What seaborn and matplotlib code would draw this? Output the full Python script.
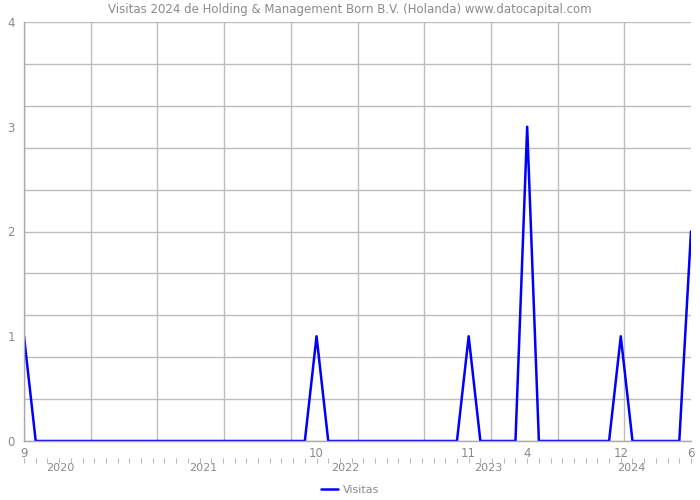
import matplotlib
matplotlib.use("Agg")
import matplotlib.pyplot as plt
import seaborn as sns
import numpy as np
import pandas as pd

sns.set_style("white")
plt.rcParams['font.family'] = ['DejaVu Sans']

# Monthly visits, Sep 2019 .. Jun 2024
months = [str(p) for p in pd.period_range("2019-09", "2024-06", freq="M")]
visitas = [1, 0, 0, 0, 0, 0, 0, 0, 0, 0, 0, 0,   # 2019-09 .. 2020-08
           0, 0, 0, 0, 0, 0, 0, 0, 0, 0, 0, 0,   # 2020-09 .. 2021-08
           0, 1, 0, 0, 0, 0, 0, 0, 0, 0, 0, 0,   # 2021-09 .. 2022-08
           0, 0, 1, 0, 0, 0, 0, 3, 0, 0, 0, 0,   # 2022-09 .. 2023-08
           0, 0, 0, 1, 0, 0, 0, 0, 0, 2]         # 2023-09 .. 2024-06
month_tick_labels = {"2019-09": "9", "2021-10": "10", "2022-11": "11",
                     "2023-04": "4", "2023-12": "12", "2024-06": "6"}
year_labels = ["2020", "2021", "2022", "2023", "2024"]
year_label_pos = [3.1, 15.3, 27.5, 39.7, 51.9]

df = pd.DataFrame({"idx": np.arange(len(months)), "month": months, "Visitas": visitas})

TXT = "#8a8a8a"
GRID = "#bdbdbd"

fig = plt.figure(figsize=(7, 5), dpi=100)
pos = [24 / 700, 1 - 441 / 500, (691 - 24) / 700, (441 - 22) / 500]

# grid axes (10 x 10 grid)
gax = fig.add_axes(pos, zorder=0)
gax.set_xlim(0, 1)
gax.set_ylim(0, 1)
gax.set_xticks(np.linspace(0, 0.9, 10))
gax.set_yticks(np.linspace(0, 1, 11))
gax.grid(True, color=GRID, linewidth=1)
gax.tick_params(length=0, labelbottom=False, labelleft=False)
for s in gax.spines.values():
    s.set_visible(False)

ax = fig.add_axes(pos, zorder=1)
ax.patch.set_alpha(0)
sns.lineplot(data=df, x="idx", y="Visitas", color="#0000ff", linewidth=1.8,
             ax=ax, label="Visitas", legend=False)
ax.set_xlim(0, len(months) - 1)
ax.set_ylim(0, 4)
ax.set_xlabel("")
ax.set_ylabel("")

for s in ["top", "right"]:
    ax.spines[s].set_visible(False)
for s in ["left", "bottom"]:
    ax.spines[s].set_color("#aaaaaa")
    ax.spines[s].set_linewidth(1)

tick_idx = [months.index(m) for m in month_tick_labels]
ax.set_xticks(tick_idx)
ax.set_xticklabels(list(month_tick_labels.values()))
ax.tick_params(axis="x", length=0, pad=4, labelsize=8.5, labelcolor=TXT)

ax.set_yticks([0, 1, 2, 3, 4])
ax.set_yticks(np.arange(0, 4.01, 0.1), minor=True)
ax.tick_params(axis="y", which="major", length=2.5, color="#aaaaaa", pad=4,
               labelsize=8.5, labelcolor=TXT)
ax.tick_params(axis="y", which="minor", length=2, color="#aaaaaa")

# secondary axis: month ticks + year labels
sec = ax.secondary_xaxis(-0.04)
sec.spines["bottom"].set_visible(False)
sec.set_xticks(year_label_pos)
sec.set_xticklabels(year_labels)
sec.set_xticks(df["idx"].tolist(), minor=True)
sec.tick_params(axis="x", which="major", length=0, pad=4, labelsize=8, labelcolor=TXT)
sec.tick_params(axis="x", which="minor", length=3.5, color="#aaaaaa", direction="out")

fig.text(0.5, 1 - 9 / 500, "Visitas 2024 de Holding & Management Born B.V. (Holanda) www.datocapital.com",
         ha="center", va="center", fontsize=8.5, color=TXT)

handles, labels = ax.get_legend_handles_labels()
fig.legend(handles, labels, loc="center", bbox_to_anchor=(0.5, 1 - 490 / 500),
           frameon=False, fontsize=8, labelcolor=TXT, handlelength=1.6,
           handletextpad=0.4)

fig.savefig("out.png", dpi=100)
